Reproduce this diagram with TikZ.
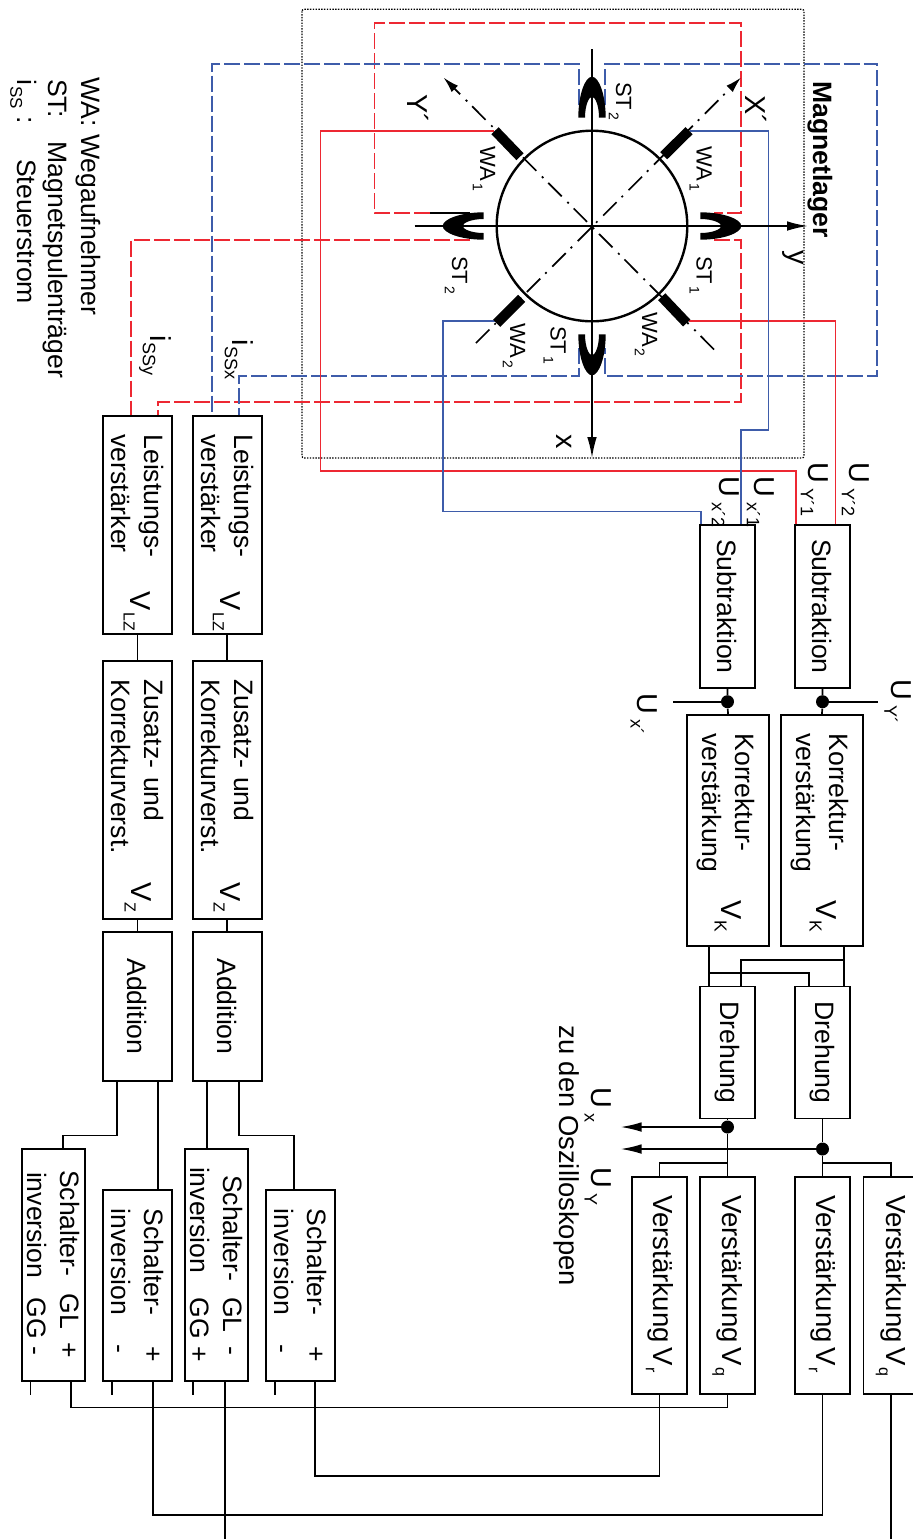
\documentclass[tikz,border=0pt]{standalone}
\usepackage{fontspec}
\setmainfont{Liberation Sans}
\usetikzlibrary{arrows.meta}
\definecolor{rotlinie}{RGB}{237,40,50}
\definecolor{blaulinie}{RGB}{62,92,170}
\newcommand{\tief}[3]{\hspace{#1}\raisebox{-3.6pt}{\fontsize{#2}{#2}\selectfont #3}}
\newcommand{\zeile}[4]{\makebox[#1][l]{#2}\makebox[24.5pt][l]{#3}#4}
\begin{document}
\begin{tikzpicture}[
      x=0.5pt,y=-0.5pt,
      block/.style={draw,line width=.9pt,rotate=-90,inner xsep=9.25pt,inner ysep=0pt,align=left,font=\fontsize{13.3}{16.5}\selectfont},
      cblock/.style={block,inner xsep=4pt,align=center},
      vblock/.style={block,text width=90pt,minimum height=27.5pt,font=\fontsize{13.8}{16.5}\selectfont},
      lbl/.style={rotate=-90,anchor=base west,inner sep=0pt,font=\fontsize{13.3}{16}\selectfont},
      gross/.style={lbl,font=\fontsize{14.4}{16}\selectfont},
      klein/.style={lbl,font=\fontsize{11}{13}\selectfont},
      dot/.style={circle,fill=black,inner sep=0pt,minimum size=6.5pt},
      con/.style={line width=.85pt},
      pfeil/.style={line width=.9pt,-{Latex[length=10.5pt,width=4.8pt]}},
      achse/.style={line width=.85pt,dash pattern=on 9.5pt off 3.5pt on 1pt off 4pt,-{Latex[length=8pt,width=4.5pt]}},
      rotd/.style={line width=.8pt,rotlinie,dash pattern=on 8pt off 2pt},
      blaud/.style={line width=.8pt,blaulinie,dash pattern=on 8pt off 2pt},
      rots/.style={line width=.8pt,rotlinie},
      blaus/.style={line width=.8pt,blaulinie}]
    \useasboundingbox (0,0) rectangle (913,1539);
    % Magnetlager
    \coordinate (C) at (592,226);
    \coordinate (wa1r) at (690,131);
    \coordinate (wa1l) at (494,131);
    \coordinate (wa2r) at (689,321);
    \coordinate (wa2l) at (495.5,321);
    \coordinate (st2oa) at (578.7,105);
    \coordinate (st2ob) at (605,105);
    \coordinate (st1ua) at (578.7,347.8);
    \coordinate (st1ub) at (605,347.8);
    \coordinate (st2la) at (470,212.8);
    \coordinate (st2lb) at (470,240);
    \coordinate (st1ra) at (714.4,212.8);
    \coordinate (st1rb) at (714.4,240);
    \draw[line width=.65pt,dash pattern=on .7pt off .7pt,rounded corners=1pt] (302,9.3) rectangle (804,458);
    % Bloecke
    \node[cblock,text width=73.5pt,minimum height=27.5pt] (SubX) at (727.5,606.5) {Subtraktion};
    \node[cblock,text width=73.5pt,minimum height=27.5pt] (SubY) at (822.5,606.5) {Subtraktion};
    \node[block,text width=97pt,minimum height=41pt,text height=11.7pt] (KorrX) at (728,830.5) {Korrektur-\\verstärkung};
    \node[block,text width=97pt,minimum height=41pt,text height=11.7pt] (KorrY) at (822,830.5) {Korrektur-\\verstärkung};
    \node[cblock,text width=58pt,minimum height=27.5pt] (DrehX) at (727.5,1052.5) {Drehung};
    \node[cblock,text width=58pt,minimum height=27.5pt] (DrehY) at (822.5,1052.5) {Drehung};
    \node[vblock] (VrA) at (659.5,1285.5) {\mbox{Verstärkung\hspace{2.5pt}V\tief{.5pt}{8}{r}}};
    \node[vblock] (VqA) at (727.5,1285.5) {\mbox{Verstärkung\hspace{2.5pt}V\tief{.5pt}{8}{q}}};
    \node[vblock] (VrB) at (822.5,1285.5) {\mbox{Verstärkung\hspace{2.5pt}V\tief{.5pt}{8}{r}}};
    \node[vblock] (VqB) at (891,1285.5) {\mbox{Verstärkung\hspace{2.5pt}V\tief{.5pt}{8}{q}}};
    \node[block,text width=90.5pt,minimum height=34.5pt] (LeiA) at (137.5,525) {Leistungs-\\verstärker};
    \node[block,text width=90.5pt,minimum height=34.5pt] (LeiB) at (227.3,525) {Leistungs-\\verstärker};
    \node[block,text width=110.5pt,minimum height=34.5pt] (ZusA) at (137.5,790) {Zusatz- und\\Korrekturverst.};
    \node[block,text width=110.5pt,minimum height=34.5pt] (ZusB) at (227.3,790) {Zusatz- und\\Korrekturverst.};
    \node[cblock,text width=66.5pt,minimum height=34.5pt] (AddA) at (137.5,1006.5) {Addition};
    \node[cblock,text width=66.5pt,minimum height=34.5pt] (AddB) at (227.3,1006.5) {Addition};
    \node[block,inner xsep=10.5pt,text width=95pt,minimum height=31.5pt] (SchA) at (53.5,1265) {\zeile{62pt}{Schalter-}{GL}{+}\\\hspace*{1pt}\zeile{63pt}{inversion}{GG}{-}};
    \node[block,text width=77pt,minimum height=34.5pt] (SchB) at (137.5,1285.5) {\makebox[69pt][l]{Schalter-}+\\\makebox[68pt][l]{inversion}-};
    \node[block,inner xsep=9pt,text width=98pt,minimum height=31.5pt] (SchC) at (216.5,1265) {\hspace*{4pt}\zeile{61pt}{Schalter-}{GL}{-}\\\zeile{65.5pt}{inversion}{GG}{+}};
    \node[block,text width=77pt,minimum height=34.5pt] (SchD) at (300.5,1285.5) {\makebox[69pt][l]{Schalter-}+\\\makebox[68pt][l]{inversion}-};
    % Knoten
    \node[dot] (dotUx) at (727.5,701.7) {};
    \node[dot] (dotUy) at (822.5,701.7) {};
    \node[dot] (dotAx) at (727.5,1127) {};
    \node[dot] (dotAy) at (822.5,1149) {};
    \coordinate (endUx) at (672.7,701.7);
    \coordinate (endUy) at (877.7,701.7);
    \coordinate (endAx) at (620.5,1127);
    \coordinate (endAy) at (620.5,1149);
    % Steuerstrom
    \draw[rotd] (st2la) -- (374.3,212.8) |- (741,23) |- (st1ra);
    \draw[con] (430,212.8) -- (st2la);
    \draw[rotd] (st1rb) -| (741,402.2) -| (LeiA.west -| 158,0);
    \draw[rotd] (st2lb) -| (LeiA.west -| 130.7,0);
    \draw[blaud] (st2oa) |- (212,63.7) -- (LeiB.west -| 212,0);
    \draw[blaud] (st2ob) |- (877,63.7) |- (605,376) -- (st1ub);
    \draw[blaud] (st1ua) |- (239,376) -- (LeiB.west -| 239,0);
    % Wegaufnehmer
    \draw[rots] (wa1l) -| (320.3,470.7) -| (SubY.west -| 795.7,0);
    \draw[rots] (wa2r) -| (SubY.west -| 835.6,0);
    \draw[blaus] (wa1r) -| (768.3,429.8) -| (SubX.west -| 741,0);
    \draw[blaus] (wa2l) -| (442.7,511.4) -| (SubX.west -| 700.7,0);
    % Rotor
    \draw[line width=1.2pt] (C) circle (95.3);
    \draw[pfeil] (592,49) -- (592,458);
    \draw[pfeil] (414.5,226) -- (808,226);
    \draw[achse] (476,343) -- (741,77.5);
    \draw[achse] (714,349.5) -- (443.5,77.5);
    \foreach \ang in {0,90,180,270}
      \fill[rotate around={\ang:(C)}] (578.3,117.7) .. controls (578.3,95) and (585,76.7) .. (592,76.7) .. controls (599,76.7) and (605.7,95) .. (605.7,117.7) -- (599,117.7) .. controls (599,105) and (595,96.7) .. (592,96.7) .. controls (589,96.7) and (585,105) .. (585,117.7) -- cycle;
    \draw[line width=5pt] (663.7,155.7) -- (689,130.7);
    \draw[line width=5pt] (520,156.7) -- (495,130.7);
    \draw[line width=5pt] (661.7,296.7) -- (686.7,323);
    \draw[line width=5pt] (521.7,298.3) -- (496.7,323.3);
    % Signalwege
    \draw[con] (SubX.east) -- (dotUx) -- (KorrX.west);
    \draw[con] (SubY.east) -- (dotUy) -- (KorrY.west);
    \draw[line width=.9pt] (dotUx) -- (endUx);
    \draw[line width=.9pt] (dotUy) -- (endUy);
    \draw[con] (KorrX.east -| 709,0) -- (DrehX.west -| 709,0);
    \draw[con] (KorrY.east -| 844,0) -- (DrehY.west -| 844,0);
    \draw[con] (709,973.3) -| (DrehY.west -| 809,0);
    \draw[con] (844,960) -| (DrehX.west -| 741,0);
    \draw[con] (DrehX.east) -- (dotAx) -- (VqA.west);
    \draw[con] (DrehY.east) -- (dotAy) -- (VrB.west);
    \draw[pfeil] (dotAx) -- (endAx);
    \draw[pfeil] (dotAy) -- (endAy);
    \draw[con] (727.5,1163) -| (VrA.west);
    \draw[con] (822.5,1163) -| (VqB.west);
    \draw[con] (VqA.east) |- (71,1407.5) -- (SchA.east -| 71,0);
    \draw[con] (VrA.east) |- (315,1476) -- (SchD.east -| 315,0);
    \draw[con] (VrB.east) |- (152.7,1515) -- (SchB.east -| 152.7,0);
    \draw[con] (VqB.east) -- (891,1539);
    \draw[con] (SchC.east -| 225,0) -- (225,1539);
    \draw[con] (SchA.east -| 30.5,0) -- (30.5,1394.7);
    \draw[con] (SchB.east -| 111.7,0) -- (111.7,1394.7);
    \draw[con] (SchC.east -| 193,0) -- (193,1394.7);
    \draw[con] (SchD.east -| 274.7,0) -- (274.7,1394.7);
    \draw[con] (LeiA.east) -- (ZusA.west);
    \draw[con] (LeiB.east) -- (ZusB.west);
    \draw[con] (ZusA.east) -- (AddA.west);
    \draw[con] (ZusB.east) -- (AddB.west);
    \draw[con] (AddA.east -| 117,0) |- (62.7,1135.5) -- (SchA.west -| 62.7,0);
    \draw[con] (AddA.east -| 158,0) -- (SchB.west -| 158,0);
    \draw[con] (AddB.east -| 206.7,0) -- (SchC.west -| 206.7,0);
    \draw[con] (AddB.east -| 239,0) |- (293.7,1135.5) -- (SchD.west -| 293.7,0);
    % Beschriftung
    \node[lbl] (legWA) at (82,77) {WA: Wegaufnehmer};
    \node[lbl] (legST) at (48.5,78.7) {ST:\hspace{12pt}Magnetspulenträger};
    \node[lbl] (legSS) at (17.5,78.7) {\makebox[40pt][l]{i\tief{.5pt}{8.5}{SS} :}Steuerstrom};
    \node[gross] (issy) at (150,335) {i\tief{.5pt}{9}{SSy}};
    \node[gross] (issx) at (232,339) {i\tief{.5pt}{9}{SSx}};
    \node[lbl,font=\fontsize{13.3}{16}\bfseries] (mlager) at (813,81) {Magnetlager};
    \node[lbl,font=\fontsize{14.4}{16}\selectfont] (labx) at (556,434.5) {x};
    \node[lbl,font=\fontsize{14.4}{16}\selectfont] (laby) at (788,250) {y};
    \node[lbl,font=\fontsize{14.4}{16}\selectfont] (labX) at (745.6,94.7) {X´};
    \node[lbl,font=\fontsize{14.4}{16}\selectfont] (labY) at (407.5,94) {Y´};
    \node[klein] (st2o) at (616,81.7) {ST\tief{1pt}{7}{2}};
    \node[klein] (wa1a) at (696.7,146) {WA\tief{1pt}{7}{1}};
    \node[klein] (wa1b) at (480,146) {WA\tief{1pt}{7}{1}};
    \node[klein] (st2l) at (452,255.7) {ST\tief{1pt}{7}{2}};
    \node[klein] (st1r) at (696.7,255.7) {ST\tief{1pt}{7}{1}};
    \node[klein] (wa2a) at (642,311.7) {WA\tief{1pt}{7}{2}};
    \node[klein] (wa2b) at (510,323) {WA\tief{1pt}{7}{2}};
    \node[klein] (st1u) at (550.7,325.7) {ST\tief{1pt}{7}{1}};
    \node[gross] (uy2) at (849,462) {U\tief{2.5pt}{9}{Y´2}};
    \node[gross] (uy1) at (808,462) {U\tief{2.5pt}{9}{Y´1}};
    \node[gross] (ux1) at (754,476) {U\tief{2.5pt}{9}{x´1}};
    \node[gross] (ux2) at (719,476) {U\tief{2.5pt}{9}{x´2}};
    \node[gross] (uxs) at (637.7,693) {U\tief{2.5pt}{9}{x´}};
    \node[gross] (uys) at (891.5,679) {U\tief{2.5pt}{9}{Y´}};
    \node[gross] (ux) at (591.7,1087) {U\tief{2.5pt}{9}{x}};
    \node[gross] (uy) at (591.7,1167) {U\tief{2.5pt}{9}{Y}};
    \node[lbl,font=\fontsize{13.7}{16}\selectfont] (osz) at (559,1025) {zu den Oszilloskopen};
    \node[gross] (vlza) at (130.7,591.5) {V\tief{.5pt}{8}{LZ}};
    \node[gross] (vlzb) at (220,591.5) {V\tief{.5pt}{8}{LZ}};
    \node[gross] (vza) at (131.7,882) {V\tief{.5pt}{8}{Z}};
    \node[gross] (vzb) at (220.7,882) {V\tief{.5pt}{8}{Z}};
    \node[gross] (vka) at (721.7,900) {V\tief{.5pt}{8.7}{K}};
    \node[gross] (vkb) at (816.7,900) {V\tief{.5pt}{8.7}{K}};
  \end{tikzpicture}
\end{document}
